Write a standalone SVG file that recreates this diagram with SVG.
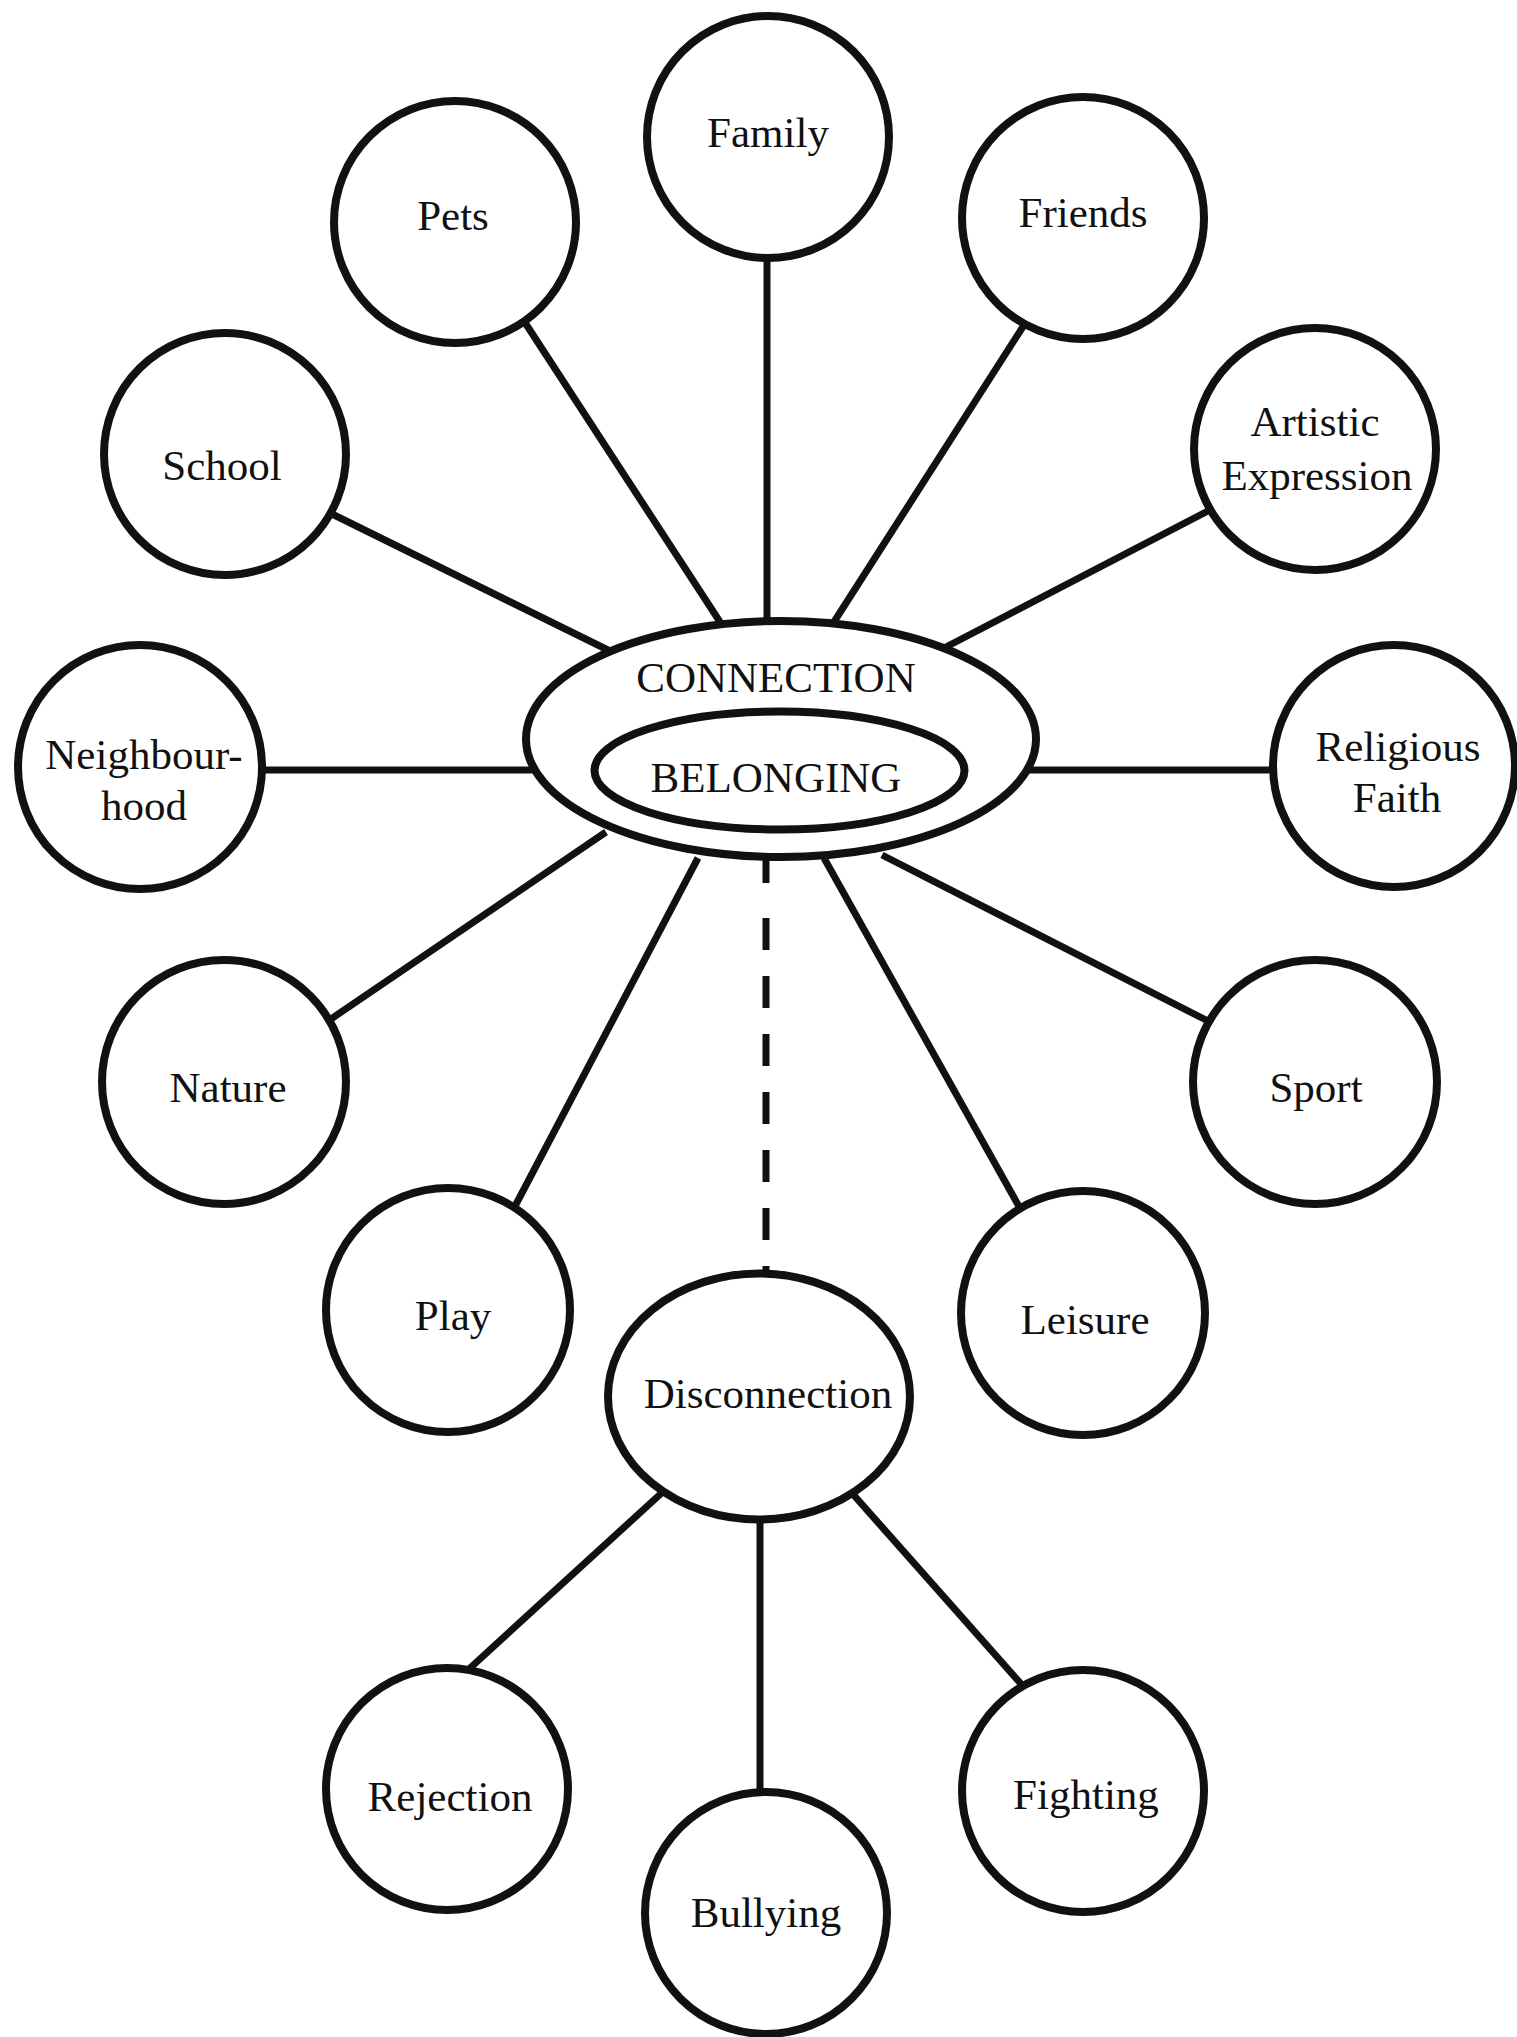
<svg xmlns="http://www.w3.org/2000/svg" width="1517" height="2037" viewBox="0 0 1517 2037">
<style>
.n{fill:#fff;stroke:#111;stroke-width:8}
.c{stroke:#111;stroke-width:7;fill:none}
.d{stroke-dasharray:32 26}
text{font-family:"Liberation Serif","Times New Roman",serif;font-size:43px;fill:#111;text-anchor:middle}
</style>
<rect width="1517" height="2037" fill="#fff"/>
<g id="connectors">
<line class="c" x1="767" y1="255" x2="767" y2="625"/>
<line class="c" x1="522" y1="318" x2="722" y2="625"/>
<line class="c" x1="1024" y1="325" x2="832" y2="625"/>
<line class="c" x1="330" y1="513" x2="612" y2="652"/>
<line class="c" x1="1208" y1="511" x2="944" y2="648"/>
<line class="c" x1="258" y1="770" x2="532" y2="770"/>
<line class="c" x1="1028" y1="770" x2="1278" y2="770"/>
<line class="c" x1="606" y1="832" x2="328" y2="1021"/>
<line class="c" x1="698" y1="858" x2="513" y2="1210"/>
<line class="c" x1="824" y1="858" x2="1021" y2="1210"/>
<line class="c" x1="882" y1="855" x2="1208" y2="1021"/>
<line class="c" x1="766" y1="855" x2="766" y2="883"/>
<line class="c d" x1="766" y1="918" x2="766" y2="1275"/>
<line class="c" x1="666" y1="1489" x2="469" y2="1669"/>
<line class="c" x1="760" y1="1515" x2="760" y2="1795"/>
<line class="c" x1="851" y1="1492" x2="1022" y2="1685"/>
</g>
<g id="family"><circle class="n" cx="768" cy="137" r="121"/><text x="768" y="147">Family</text></g>
<g id="pets"><circle class="n" cx="455" cy="222" r="121"/><text x="453" y="230">Pets</text></g>
<g id="friends"><circle class="n" cx="1083" cy="218" r="121"/><text x="1083" y="227">Friends</text></g>
<g id="school"><circle class="n" cx="225" cy="454" r="121"/><text x="222" y="480">School</text></g>
<g id="artistic-expression"><circle class="n" cx="1315" cy="449" r="121"/><text x="1315" y="436">Artistic</text><text x="1317" y="490">Expression</text></g>
<g id="neighbourhood"><circle class="n" cx="140" cy="767" r="122"/><text x="144" y="769">Neighbour-</text><text x="144" y="820">hood</text></g>
<g id="religious-faith"><circle class="n" cx="1394" cy="766" r="121"/><text x="1398" y="761">Religious</text><text x="1397" y="812">Faith</text></g>
<g id="nature"><circle class="n" cx="224" cy="1082" r="122"/><text x="228" y="1102">Nature</text></g>
<g id="sport"><circle class="n" cx="1315" cy="1082" r="122"/><text x="1316" y="1102">Sport</text></g>
<g id="play"><circle class="n" cx="448" cy="1310" r="122"/><text x="453" y="1330">Play</text></g>
<g id="leisure"><circle class="n" cx="1083" cy="1313" r="122"/><text x="1085" y="1334">Leisure</text></g>
<g id="connection"><ellipse class="n" cx="781" cy="739" rx="255" ry="118"/><text x="776" y="692">CONNECTION</text></g>
<g id="belonging"><ellipse class="n" cx="779.5" cy="770.5" rx="185" ry="59"/><text x="776" y="792">BELONGING</text></g>
<g id="disconnection"><ellipse class="n" cx="759" cy="1396.5" rx="151" ry="123"/><text x="768" y="1408">Disconnection</text></g>
<g id="rejection"><circle class="n" cx="447" cy="1789" r="121"/><text x="450" y="1811">Rejection</text></g>
<g id="bullying"><circle class="n" cx="766" cy="1913" r="121"/><text x="766" y="1927">Bullying</text></g>
<g id="fighting"><circle class="n" cx="1083" cy="1791" r="121"/><text x="1086" y="1809">Fighting</text></g>
</svg>
